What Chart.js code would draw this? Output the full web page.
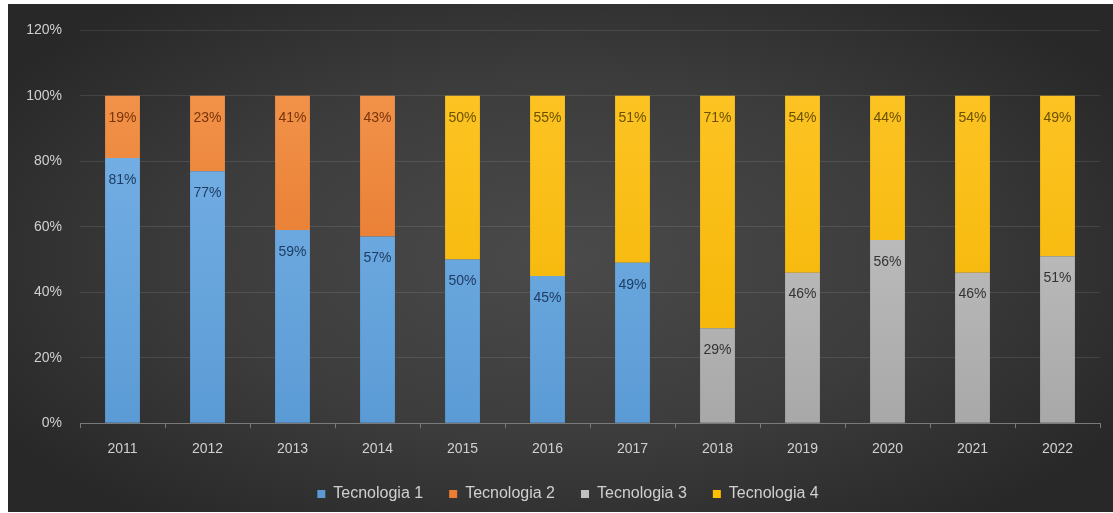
<!DOCTYPE html>
<html>
<head>
<meta charset="utf-8">
<script src="https://cdn.jsdelivr.net/npm/chart.js@4.4.1/dist/chart.umd.min.js"></script>
<style>
  html, body { margin: 0; padding: 0; background: #ffffff; }
  #panel {
    position: absolute; left: 8px; top: 4px; width: 1105px; height: 508px;
    background: radial-gradient(ellipse 60% 65% at 50% 50%, #4a4a4a 0%, #3c3c3c 55%, #282828 100%);
  }
  #chart { display: block; }
</style>
</head>
<body>
<div id="panel"><canvas id="chart" width="1105" height="508"></canvas></div>
<script>
/* parts de chaque technologie par année (en %) */
const years = ["2011", "2012", "2013", "2014", "2015", "2016", "2017", "2018", "2019", "2020", "2021", "2022"];
const tech1 = [81, 77, 59, 57, 50, 45, 49, null, null, null, null, null];
const tech2 = [19, 23, 41, 43, null, null, null, null, null, null, null, null];
const tech3 = [null, null, null, null, null, null, null, 29, 46, 56, 46, 51];
const tech4 = [null, null, null, null, 50, 55, 51, 71, 54, 44, 54, 49];
const yTicks = [0, 20, 40, 60, 80, 100, 120];

const FONT = "'Liberation Sans', Arial, sans-serif";

// dégradé vertical pour chaque série
function grad(top, bottom) {
  return function (ctx) {
    const area = ctx.chart.chartArea;
    if (!area) return bottom;
    const g = ctx.chart.ctx.createLinearGradient(0, area.top, 0, area.bottom);
    g.addColorStop(0, top);
    g.addColorStop(1, bottom);
    return g;
  };
}

// étiquettes de valeur juste sous le haut de chaque segment
const valueLabels = {
  id: "valueLabels",
  afterDatasetsDraw(chart) {
    const ctx = chart.ctx;
    ctx.save();
    ctx.font = "14px " + FONT;
    ctx.textAlign = "center";
    ctx.textBaseline = "middle";
    chart.data.datasets.forEach((ds, i) => {
      const meta = chart.getDatasetMeta(i);
      meta.data.forEach((bar, j) => {
        const v = ds.data[j];
        if (v == null) return;
        ctx.fillStyle = ds.labelColor;
        ctx.fillText(v + "%", bar.x, bar.y + 22);
      });
    });
    ctx.restore();
  }
};

// petit décalage de la légende vers la droite
const legendShift = {
  id: "legendShift",
  afterLayout(chart) {
    chart.legend.left += 14;
    chart.legend.right += 14;
  }
};

new Chart(document.getElementById("chart"), {
  type: "bar",
  data: {
    labels: years,
    datasets: [
      { label: "Tecnologia 1", data: tech1, backgroundColor: grad("#7db6ea", "#5b9bd5"), legendColor: "#5b9bd5", labelColor: "#1d3d63" },
      { label: "Tecnologia 2", data: tech2, backgroundColor: grad("#f59a52", "#e06a1e"), legendColor: "#ed7d31", labelColor: "#7a340a" },
      { label: "Tecnologia 3", data: tech3, backgroundColor: grad("#cfcfcf", "#a8a8a8"), legendColor: "#bfbfbf", labelColor: "#333333" },
      { label: "Tecnologia 4", data: tech4, backgroundColor: grad("#ffc629", "#f2b400"), legendColor: "#ffc000", labelColor: "#6b5000" }
    ]
  },
  options: {
    responsive: false,
    animation: false,
    layout: { padding: { left: 0, right: 13, top: 26, bottom: 0 } },
    datasets: { bar: { categoryPercentage: 1, barPercentage: 0.41 } },
    plugins: {
      tooltip: { enabled: false },
      legend: {
        position: "bottom",
        labels: {
          color: "#d0d0d0",
          font: { family: FONT, size: 16 },
          boxWidth: 8,
          boxHeight: 8,
          padding: 26,
          generateLabels(chart) {
            return chart.data.datasets.map((ds, i) => ({
              text: ds.label,
              fillStyle: ds.legendColor,
              strokeStyle: ds.legendColor,
              lineWidth: 0,
              fontColor: "#d0d0d0",
              datasetIndex: i
            }));
          }
        }
      }
    },
    scales: {
      x: {
        stacked: true,
        afterFit(scale) { scale.height -= 11; },
        grid: { display: true, drawOnChartArea: false, drawTicks: true, tickLength: 5, color: "#7a7a7a", offset: true },
        border: { color: "#7a7a7a", width: 1 },
        ticks: { color: "#d0d0d0", font: { family: FONT, size: 14 }, padding: 13 }
      },
      y: {
        stacked: true,
        min: 0,
        max: 120,
        afterFit(scale) { scale.width = 72; },
        afterBuildTicks(scale) { scale.ticks = yTicks.map(v => ({ value: v })); },
        grid: { color: "rgba(255,255,255,0.10)", drawTicks: false },
        border: { display: false },
        ticks: {
          color: "#d0d0d0",
          padding: 18,
          font: { family: FONT, size: 14 },
          callback: v => v + "%"
        }
      }
    }
  },
  plugins: [valueLabels, legendShift]
});
</script>
</body>
</html>
